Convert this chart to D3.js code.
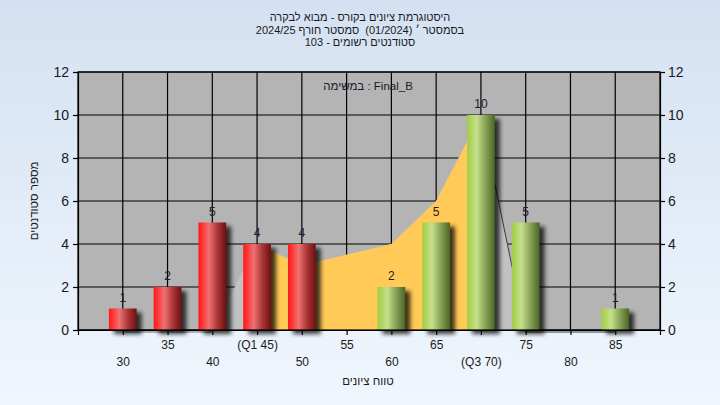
<!DOCTYPE html>
<html><head><meta charset="utf-8">
<script src="https://cdn.jsdelivr.net/npm/d3@7"></script>
<style>
body{margin:0;background:#fff;}
svg{display:block;}
text{font-family:"Liberation Sans",Arial,sans-serif;white-space:pre;}
</style>
</head><body><svg id="c" width="720" height="405"></svg>
<script>
const titleLines = ["היסטוגרמת ציונים בקורס - מבוא לבקרה", "בסמסטר ׳ (01/2024)  סמסטר חורף 2024/25", "סטודנטים רשומים - 103"];
const legendText = "במשימה : Final_B";
const xTitle = "טווח ציונים";
const yTitle = "מספר סטודנטים";
const categories = [30,35,40,45,50,55,60,65,70,75,80,85];
const tickLabels = ["30","35","40","(Q1 45)","50","55","60","65","(Q3 70)","75","80","85"];
const counts = [1,2,5,4,4,0,2,5,10,5,0,1];
const curveValues = [0,0,0,4,3,3.5,4,6,10,0,0,0];
const q1 = 45, q3 = 70;
const passMark = 55;
const yTicks = [0,2,4,6,8,10,12];

const svg = d3.select("#c");
const defs = svg.append("defs");

const bg = defs.append("linearGradient").attr("id","bg").attr("x1",0).attr("y1",0).attr("x2",0).attr("y2",1);
bg.append("stop").attr("offset",0).attr("stop-color","#d4e1f2");
bg.append("stop").attr("offset",1).attr("stop-color","#f0f6fd");

function hGrad(id, stops){
  const g = defs.append("linearGradient").attr("id",id).attr("x1",0).attr("y1",0).attr("x2",1).attr("y2",0);
  stops.forEach(s=>g.append("stop").attr("offset",s[0]).attr("stop-color",s[1]));
}
hGrad("red", [[0,"#ff1a1a"],[0.12,"#ff3030"],[0.38,"#ee7272"],[0.7,"#a83434"],[1,"#6e1010"]]);
hGrad("green", [[0,"#a2cd46"],[0.12,"#aed35a"],[0.35,"#c6df8c"],[0.65,"#8aa55a"],[1,"#4b6624"]]);

const blur = defs.append("filter").attr("id","blur").attr("x","-50%").attr("y","-50%").attr("width","200%").attr("height","200%");
blur.append("feGaussianBlur").attr("stdDeviation",2.2);

svg.append("rect").attr("width",720).attr("height",405).attr("fill","url(#bg)");

const x = d3.scaleLinear().domain([25,90]).range([78,660]);
const y = d3.scaleLinear().domain([0,12]).range([330,72]);
const step = x(30)-x(25);
const bw = step*0.62;

// plot background
svg.append("rect").attr("x",x(25)).attr("y",y(12)).attr("width",x(90)-x(25)).attr("height",y(0)-y(12)).attr("fill","#b4b4b4");

// grid
const grid = svg.append("g").attr("stroke","#000").attr("stroke-width",1.2);
yTicks.forEach(v=>grid.append("line").attr("x1",x(25)).attr("x2",x(90)).attr("y1",y(v)).attr("y2",y(v)));
categories.forEach(c=>grid.append("line").attr("x1",x(c)).attr("x2",x(c)).attr("y1",y(0)).attr("y2",y(12)));

// area series
const pts = categories.map((c,i)=>({c, v:curveValues[i]}));
const area = d3.area().x(d=>x(d.c)).y0(y(0)).y1(d=>y(d.v));
svg.append("path").datum(pts).attr("d",area).attr("fill","#c2c2c2");
svg.append("path").datum(pts.filter(d=>d.c>=q1 && d.c<=q3)).attr("d",area).attr("fill","#ffca58");
const line = d3.line().x(d=>x(d.c)).y(d=>y(d.v));
svg.append("path").datum(pts.filter(d=>d.c>=q3)).attr("d",line).attr("fill","none").attr("stroke","#3a3a3a").attr("stroke-width",1).attr("transform","translate(0,2)");
svg.append("path").datum(pts.filter(d=>d.c<=40)).attr("d",line).attr("fill","none").attr("stroke","#6a6a6a").attr("stroke-width",1).attr("transform","translate(0,2)");

// bars
const bars = categories.map((c,i)=>({c, v:counts[i]})).filter(d=>d.v>0);
svg.append("g").selectAll("rect").data(bars).join("rect")
  .attr("x",d=>x(d.c)-bw/2+5).attr("y",d=>y(d.v)+4).attr("width",bw).attr("height",d=>y(0)-y(d.v))
  .attr("fill","#000").attr("opacity",0.75).attr("filter","url(#blur)");
svg.append("g").selectAll("rect").data(bars).join("rect")
  .attr("x",d=>x(d.c)-bw/2).attr("y",d=>y(d.v)).attr("width",bw).attr("height",d=>y(0)-y(d.v))
  .attr("fill",d=>d.c<passMark?"url(#red)":"url(#green)");
svg.append("g").selectAll("text").data(bars).join("text")
  .attr("x",d=>x(d.c)).attr("y",d=>y(d.v)-7).attr("text-anchor","middle")
  .attr("font-size",12).attr("fill","#1c1c2c").text(d=>d.v);

// plot border
svg.append("rect").attr("x",x(25)).attr("y",y(12)).attr("width",x(90)-x(25)).attr("height",y(0)-y(12))
  .attr("fill","none").attr("stroke","#000").attr("stroke-width",1.2);

// axes
const left = svg.append("g").attr("transform",`translate(${x(25)},0)`)
  .call(d3.axisLeft(y).tickValues(yTicks).tickSize(5).tickPadding(4));
const right = svg.append("g").attr("transform",`translate(${x(90)},0)`)
  .call(d3.axisRight(y).tickValues(yTicks).tickSize(5).tickPadding(3));
[left,right].forEach(a=>{
  a.selectAll("text").attr("font-size",14).attr("fill","#1a1a1a").style("font-family","'Liberation Sans',Arial,sans-serif");
  a.selectAll("line,path").attr("stroke","#000").attr("stroke-width",1.2);
});
const labelMap = new Map(categories.map((c,i)=>[c,tickLabels[i]]));
const bottom = svg.append("g").attr("transform",`translate(0,${y(0)})`)
  .call(d3.axisBottom(x).tickValues(d3.range(25,91,5)).tickSize(5).tickSizeOuter(0).tickFormat(d=>labelMap.get(d)||""));
bottom.selectAll("line,path").attr("stroke","#000").attr("stroke-width",1.2);
bottom.selectAll("text").attr("font-size",12).attr("fill","#1a1a1a").style("font-family","'Liberation Sans',Arial,sans-serif")
  .attr("dy",null)
  .attr("y",d=>{const i=categories.indexOf(d); return i%2===1?19:36;});

// titles
const tg = svg.append("g").attr("font-size",11).attr("fill","#1a1a1a").attr("text-anchor","middle");
titleLines.forEach((t,i)=>tg.append("text").attr("x",360).attr("y",21+i*12.5).text(t));
svg.append("text").attr("x",368).attr("y",90).attr("text-anchor","middle").attr("font-size",11.5).attr("fill","#201828").text(legendText);
svg.append("text").attr("x",368).attr("y",385).attr("text-anchor","middle").attr("font-size",11.5).attr("fill","#1a1a1a").text(xTitle);
svg.append("text").attr("transform","translate(38,201) rotate(-90)").attr("text-anchor","middle").attr("font-size",11.5).attr("fill","#1a1a1a").text(yTitle);
</script></body></html>
